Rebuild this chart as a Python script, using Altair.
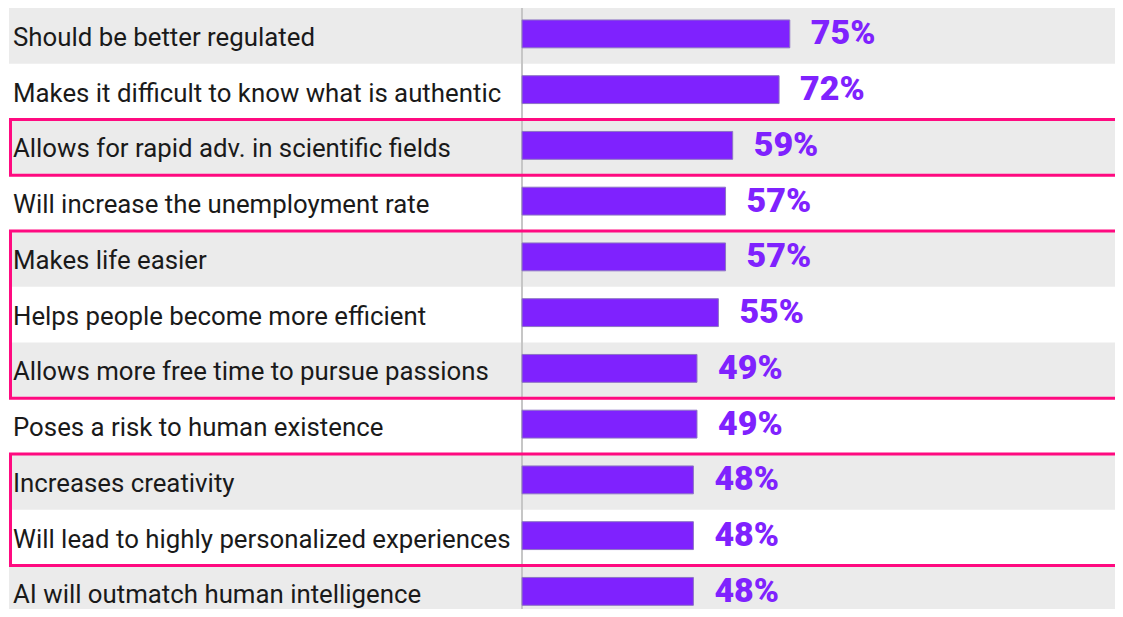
import altair as alt
import pandas as pd

categories = [
    "Should be better regulated",
    "Makes it difficult to know what is authentic",
    "Allows for rapid adv. in scientific fields",
    "Will increase the unemployment rate",
    "Makes life easier",
    "Helps people become more efficient",
    "Allows more free time to pursue passions",
    "Poses a risk to human existence",
    "Increases creativity",
    "Will lead to highly personalized experiences",
    "AI will outmatch human intelligence",
]
values = [75, 72, 59, 57, 57, 55, 49, 49, 48, 48, 48]

highlight_groups = [
    ["Allows for rapid adv. in scientific fields"],
    ["Makes life easier", "Helps people become more efficient",
     "Allows more free time to pursue passions"],
    ["Increases creativity", "Will lead to highly personalized experiences"],
]

PURPLE = "#7f22fe"
PINK = "#ff0a80"
GRAY = "#ebebeb"

W = 1107
H = 601
ROW = 55.75
N = len(categories)

df = pd.DataFrame({"item": categories, "pct": values})
boxes = pd.DataFrame({
    "start": [categories.index(g[0]) for g in highlight_groups],
    "end": [categories.index(g[-1]) + 1 for g in highlight_groups],
})

yband = alt.Scale(domain=categories, range=[0, ROW * N], paddingInner=0, paddingOuter=0)
Y = alt.Y("item:N", scale=yband, axis=None, sort=None)
xscale = alt.Scale(domain=[-144, 166.1], nice=False, zero=False)

bg = (
    alt.Chart(df)
    .transform_window(rn="row_number()")
    .transform_filter("datum.rn % 2 == 1")
    .mark_rect(color=GRAY)
    .encode(y=Y, x=alt.value(1), x2=alt.value(W))
)

axis_line = alt.Chart(df).mark_rule(color="#c6c6c6", strokeWidth=1.5).encode(
    x=alt.X(datum=0, type="quantitative", scale=xscale, axis=None),
    y=alt.value(-2),
    y2=alt.value(H),
)

bars = alt.Chart(df).mark_bar(
    color=PURPLE, stroke="#8d74c4", strokeWidth=1,
    height=alt.RelativeBandSize(0.5), yOffset=-2,
).encode(
    x=alt.X("pct:Q", scale=xscale, axis=None),
    y=Y,
)

value_labels = alt.Chart(df).transform_calculate(
    lbl="datum.pct + '%'"
).mark_text(
    align="left", baseline="alphabetic", dx=21, dy=8.5,
    font="Roboto", fontSize=34, fontWeight=900, color=PURPLE,
).encode(
    x=alt.X("pct:Q", scale=xscale, axis=None),
    y=Y,
    text="lbl:N",
)

item_labels = alt.Chart(df).mark_text(
    align="left", baseline="alphabetic", dy=10,
    font="Roboto", fontSize=25.8, color="#1a1a1a",
).encode(
    x=alt.value(5),
    y=Y,
    text="item:N",
)

box_layer = alt.Chart(boxes).mark_rect(
    filled=False, color=PINK, strokeWidth=3,
).encode(
    y=alt.Y("start:Q", scale=alt.Scale(domain=[0, N], range=[0, ROW * N], nice=False, zero=False), axis=None),
    y2="end:Q",
    x=alt.value(2.5),
    x2=alt.value(W + 10),
)

chart = (
    alt.layer(bg, axis_line, bars, value_labels, item_labels, box_layer)
    .resolve_scale(y="independent")
    .properties(width=W, height=H, padding=0, autosize=alt.AutoSizeParams(type="none"),
                background="white")
    .configure_view(stroke=None)
)

chart.save("out.html", embed_options={"renderer": "svg", "actions": False})
